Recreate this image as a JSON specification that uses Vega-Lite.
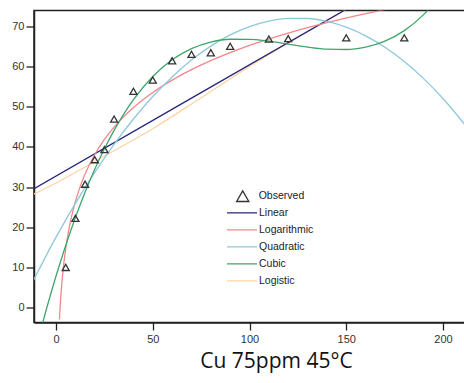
{
  "$schema": "https://vega.github.io/schema/vega-lite/v6.json",
  "width": 432,
  "height": 312,
  "autosize": {"type": "none"},
  "padding": {"left": 34, "top": 10.5, "right": 0, "bottom": 60.5},
  "background": "white",
  "config": {
    "view": {"stroke": "#222", "strokeWidth": 1.5},
    "axis": {
      "grid": false,
      "domainColor": "#222",
      "domainWidth": 1.5,
      "tickColor": "#222",
      "tickWidth": 1.3,
      "labelFont": "Liberation Sans",
      "labelFontSize": 11,
      "labelColor": "#333",
      "labelFlush": false,
      "labelOverlap": false
    },
    "legend": {"labelFont": "Liberation Sans", "labelFontSize": 10.5, "labelColor": "#222"}
  },
  "datasets": {
    "obs": [
      {"x": 5, "y": 10.0, "series": "Observed"},
      {"x": 10, "y": 22.2, "series": "Observed"},
      {"x": 15, "y": 30.7, "series": "Observed"},
      {"x": 20, "y": 36.8, "series": "Observed"},
      {"x": 25, "y": 39.3, "series": "Observed"},
      {"x": 30, "y": 46.9, "series": "Observed"},
      {"x": 40, "y": 53.8, "series": "Observed"},
      {"x": 50, "y": 56.6, "series": "Observed"},
      {"x": 60, "y": 61.4, "series": "Observed"},
      {"x": 70, "y": 63.0, "series": "Observed"},
      {"x": 80, "y": 63.4, "series": "Observed"},
      {"x": 90, "y": 65.0, "series": "Observed"},
      {"x": 110, "y": 66.8, "series": "Observed"},
      {"x": 120, "y": 66.9, "series": "Observed"},
      {"x": 150, "y": 67.1, "series": "Observed"},
      {"x": 180, "y": 67.1, "series": "Observed"}
    ],
    "fits": [
      {"model": "Logistic", "x": -15, "y": 27.4},
      {"model": "Logistic", "x": 0, "y": 31.0},
      {"model": "Logistic", "x": 25, "y": 37.7},
      {"model": "Logistic", "x": 50, "y": 44.5},
      {"model": "Logistic", "x": 75, "y": 52.2},
      {"model": "Logistic", "x": 100, "y": 60.0},
      {"model": "Logistic", "x": 125, "y": 67.2},
      {"model": "Logistic", "x": 150, "y": 74.2},
      {"model": "Linear", "x": -15, "y": 28.60},
      {"model": "Linear", "x": 70, "y": 52.10},
      {"model": "Linear", "x": 155, "y": 75.59},
      {"model": "Logarithmic", "x": 1.75, "y": -2.97},
      {"model": "Logarithmic", "x": 2, "y": -0.72},
      {"model": "Logarithmic", "x": 2.5, "y": 3.04},
      {"model": "Logarithmic", "x": 3, "y": 6.11},
      {"model": "Logarithmic", "x": 4, "y": 10.96},
      {"model": "Logarithmic", "x": 5, "y": 14.72},
      {"model": "Logarithmic", "x": 6, "y": 17.79},
      {"model": "Logarithmic", "x": 8, "y": 22.64},
      {"model": "Logarithmic", "x": 10, "y": 26.40},
      {"model": "Logarithmic", "x": 12.5, "y": 30.16},
      {"model": "Logarithmic", "x": 15, "y": 33.23},
      {"model": "Logarithmic", "x": 20, "y": 38.08},
      {"model": "Logarithmic", "x": 25, "y": 41.84},
      {"model": "Logarithmic", "x": 30, "y": 44.91},
      {"model": "Logarithmic", "x": 40, "y": 49.76},
      {"model": "Logarithmic", "x": 50, "y": 53.52},
      {"model": "Logarithmic", "x": 60, "y": 56.59},
      {"model": "Logarithmic", "x": 70, "y": 59.19},
      {"model": "Logarithmic", "x": 80, "y": 61.44},
      {"model": "Logarithmic", "x": 90, "y": 63.42},
      {"model": "Logarithmic", "x": 100, "y": 65.20},
      {"model": "Logarithmic", "x": 120, "y": 68.27},
      {"model": "Logarithmic", "x": 140, "y": 70.87},
      {"model": "Logarithmic", "x": 160, "y": 73.12},
      {"model": "Logarithmic", "x": 175, "y": 74.63},
      {"model": "Quadratic", "x": -15, "y": 3.61},
      {"model": "Quadratic", "x": 0, "y": 17.53},
      {"model": "Quadratic", "x": 10, "y": 25.93},
      {"model": "Quadratic", "x": 20, "y": 33.63},
      {"model": "Quadratic", "x": 30, "y": 40.62},
      {"model": "Quadratic", "x": 40, "y": 46.91},
      {"model": "Quadratic", "x": 50, "y": 52.50},
      {"model": "Quadratic", "x": 60, "y": 57.38},
      {"model": "Quadratic", "x": 70, "y": 61.57},
      {"model": "Quadratic", "x": 80, "y": 65.05},
      {"model": "Quadratic", "x": 90, "y": 67.82},
      {"model": "Quadratic", "x": 100, "y": 69.90},
      {"model": "Quadratic", "x": 110, "y": 71.27},
      {"model": "Quadratic", "x": 120, "y": 71.94},
      {"model": "Quadratic", "x": 130, "y": 71.91},
      {"model": "Quadratic", "x": 140, "y": 71.18},
      {"model": "Quadratic", "x": 150, "y": 69.74},
      {"model": "Quadratic", "x": 160, "y": 67.60},
      {"model": "Quadratic", "x": 170, "y": 64.75},
      {"model": "Quadratic", "x": 180, "y": 61.21},
      {"model": "Quadratic", "x": 190, "y": 56.96},
      {"model": "Quadratic", "x": 200, "y": 52.01},
      {"model": "Quadratic", "x": 215, "y": 43.27},
      {"model": "Cubic", "x": -12, "y": -13.2},
      {"model": "Cubic", "x": -5, "y": -0.40},
      {"model": "Cubic", "x": 0, "y": 7.88},
      {"model": "Cubic", "x": 5, "y": 15.47},
      {"model": "Cubic", "x": 10, "y": 22.40},
      {"model": "Cubic", "x": 15, "y": 28.70},
      {"model": "Cubic", "x": 20, "y": 34.40},
      {"model": "Cubic", "x": 25, "y": 39.52},
      {"model": "Cubic", "x": 30, "y": 44.09},
      {"model": "Cubic", "x": 35, "y": 48.14},
      {"model": "Cubic", "x": 40, "y": 51.71},
      {"model": "Cubic", "x": 50, "y": 57.49},
      {"model": "Cubic", "x": 60, "y": 61.65},
      {"model": "Cubic", "x": 70, "y": 64.43},
      {"model": "Cubic", "x": 80, "y": 66.05},
      {"model": "Cubic", "x": 90, "y": 66.75},
      {"model": "Cubic", "x": 100, "y": 66.74},
      {"model": "Cubic", "x": 110, "y": 66.26},
      {"model": "Cubic", "x": 120, "y": 65.53},
      {"model": "Cubic", "x": 130, "y": 64.80},
      {"model": "Cubic", "x": 140, "y": 64.28},
      {"model": "Cubic", "x": 150, "y": 64.20},
      {"model": "Cubic", "x": 160, "y": 64.79},
      {"model": "Cubic", "x": 170, "y": 66.28},
      {"model": "Cubic", "x": 180, "y": 68.90},
      {"model": "Cubic", "x": 190, "y": 72.88},
      {"model": "Cubic", "x": 200, "y": 78.45}
    ]
  },
  "layer": [
    {
      "data": {"name": "fits"},
      "mark": {"type": "line", "clip": true, "strokeWidth": 1.3, "interpolate": "monotone"},
      "encoding": {
        "x": {
          "field": "x", "type": "quantitative",
          "scale": {"domain": [-11.4, 211.9], "nice": false, "zero": false},
          "axis": {
            "values": [0, 50, 100, 150, 200],
            "tickSize": 7.5,
            "labelPadding": 3,
            "title": "Cu 75ppm 45°C",
            "titleFont": "Open Sans",
            "titleFontSize": 21,
            "titleFontWeight": "normal",
            "titleColor": "#111",
            "titleX": 242,
            "titleY": 45,
            "titleAlign": "center",
            "titleBaseline": "alphabetic"
          }
        },
        "y": {
          "field": "y", "type": "quantitative",
          "scale": {"domain": [-3.7, 73.9], "nice": false, "zero": false},
          "axis": {
            "values": [0, 10, 20, 30, 40, 50, 60, 70],
            "tickSize": 8,
            "labelPadding": 2,
            "title": null
          }
        },
        "color": {
          "field": "model", "type": "nominal",
          "scale": {
            "domain": ["Linear", "Logarithmic", "Quadratic", "Cubic", "Logistic"],
            "range": ["#27277d", "#f4868b", "#8ec8dd", "#3ea56c", "#fdd4a6"]
          },
          "legend": {
            "orient": "none",
            "legendX": 192,
            "legendY": 195,
            "title": null,
            "padding": 0,
            "symbolType": "stroke",
            "symbolSize": 900,
            "symbolStrokeWidth": 1.3,
            "clipHeight": 14.7,
            "rowPadding": 2,
            "labelOffset": 1
          }
        }
      }
    },
    {
      "data": {"name": "obs"},
      "mark": {"type": "point", "filled": false, "stroke": "#333", "strokeWidth": 1.3, "size": 50, "opacity": 1},
      "encoding": {
        "x": {"field": "x", "type": "quantitative"},
        "y": {"field": "y", "type": "quantitative"},
        "shape": {
          "field": "series", "type": "nominal",
          "scale": {"range": ["triangle-up"]},
          "legend": {
            "orient": "none",
            "legendX": 201.7,
            "legendY": 178.7,
            "title": null,
            "padding": 0,
            "symbolSize": 150,
            "symbolStrokeColor": "#333",
            "symbolStrokeWidth": 1.3,
            "symbolFillColor": "transparent",
            "labelOffset": 9
          }
        }
      }
    }
  ]
}
